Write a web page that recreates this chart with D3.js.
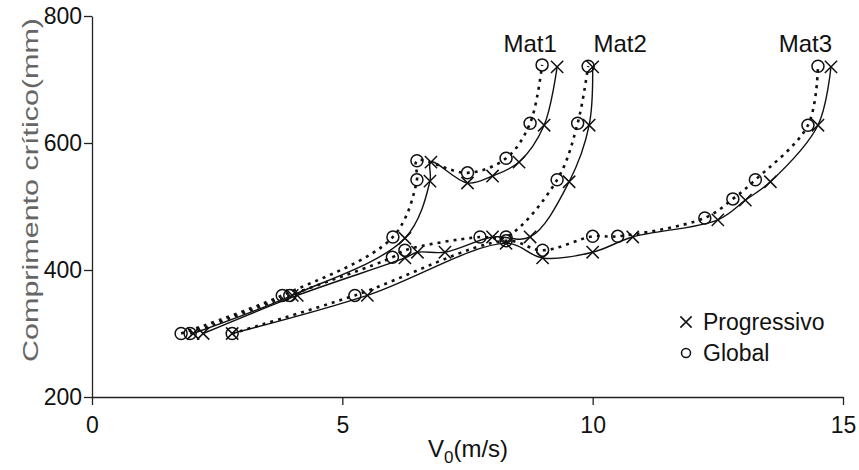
<!DOCTYPE html>
<html lang="pt">
<head>
  <meta charset="UTF-8">
  <script src="https://cdn.jsdelivr.net/npm/d3@7"></script>
  <title>Comprimento crítico x V0</title>
  <style>
    body { margin: 0; background: #fff; }
    text { font-family: 'Liberation Sans', Arial, sans-serif; }
    .tick text { font-size: 23px; fill: #111; }
    .tick line, .domain { stroke: #222; stroke-width: 1.3; }
    .prog { fill: none; stroke: #111; stroke-width: 1.4; }
    .glob { fill: none; stroke: #111; stroke-width: 2.6; stroke-dasharray: 3 5; }
    .mark { fill: none; stroke: #111; stroke-width: 1.5; }
  </style>
</head>
<body>
  <script>
    // data: velocity (m/s) and critical length (mm)
    const mat1ProgV = [2.02, 4.0, 6.25, 6.75, 6.77, 7.5, 8.0, 8.53, 9.03, 9.29];
    const mat1ProgL = [300, 360, 450, 540, 570, 537, 548, 570, 628, 720];
    const mat1GlobV = [1.78, 3.8, 6.01, 6.49, 6.49, 7.5, 8.27, 8.75, 8.99];
    const mat1GlobL = [300, 360, 452, 542, 572, 553, 576, 631, 723];

    const mat2ProgV = [2.22, 4.1, 6.25, 6.5, 7.05, 8.0, 8.75, 9.53, 9.93, 10.0];
    const mat2ProgL = [300, 360, 419, 428, 428, 452, 452, 539, 628, 720];
    const mat2GlobV = [1.96, 3.95, 6.0, 6.25, 7.75, 8.27, 9.29, 9.7, 9.91];
    const mat2GlobL = [300, 360, 420, 431, 452, 452, 542, 631, 721];

    const mat3ProgV = [2.8, 5.5, 8.27, 9.0, 10.0, 10.8, 12.5, 13.05, 13.55, 14.5, 14.76];
    const mat3ProgL = [300, 360, 442, 419, 428, 452, 479, 510, 539, 628, 720];
    const mat3GlobV = [2.8, 5.25, 8.27, 9.0, 10.0, 10.5, 12.24, 12.8, 13.25, 14.3, 14.5];
    const mat3GlobL = [300, 360, 446, 431, 453, 453, 482, 512, 542, 628, 721];

    const matLabels = ['Mat1', 'Mat2', 'Mat3'];
    const matLabelV = [8.75, 10.55, 14.25];
    const xTicks = [0, 5, 10, 15];
    const yTicks = [200, 400, 600, 800];

    const width = 859, height = 470;
    const x = d3.scaleLinear().domain([0, 15]).range([92, 843]);
    const y = d3.scaleLinear().domain([200, 800]).range([397, 16]);

    const svg = d3.select('body').append('svg').attr('width', width).attr('height', height);

    svg.append('g').attr('transform', `translate(0,${y(200)})`)
      .call(d3.axisBottom(x).tickValues(xTicks).tickSize(8).tickSizeOuter(0).tickPadding(5))
      .selectAll('.tick text').attr('dy', '1em');
    svg.append('g').attr('transform', `translate(${x(0)},0)`)
      .call(d3.axisLeft(y).tickValues(yTicks).tickSize(8).tickSizeOuter(0).tickPadding(2));

    const series = [
      [mat1ProgV, mat1ProgL, mat1GlobV, mat1GlobL],
      [mat2ProgV, mat2ProgL, mat2GlobV, mat2GlobL],
      [mat3ProgV, mat3ProgL, mat3GlobV, mat3GlobL]
    ];

    const line = d3.line().x(d => x(d[0])).y(d => y(d[1])).curve(d3.curveCatmullRom.alpha(0.5));
    const xSym = d3.symbol().type(d3.symbolX).size(100);

    series.forEach(([pv, pl, gv, gl]) => {
      const prog = pv.map((v, i) => [v, pl[i]]);
      const glob = gv.map((v, i) => [v, gl[i]]);
      svg.append('path').attr('class', 'glob').attr('d', line(glob));
      svg.append('path').attr('class', 'prog').attr('d', line(prog));
      svg.append('g').selectAll('circle').data(glob).enter().append('circle')
        .attr('class', 'mark').attr('r', 6)
        .attr('cx', d => x(d[0])).attr('cy', d => y(d[1]));
      svg.append('g').selectAll('path').data(prog).enter().append('path')
        .attr('class', 'mark').attr('d', xSym)
        .attr('transform', d => `translate(${x(d[0])},${y(d[1])})`);
    });

    svg.selectAll('.matlabel').data(matLabels).enter().append('text')
      .attr('class', 'matlabel')
      .attr('x', (d, i) => x(matLabelV[i])).attr('y', y(743))
      .attr('text-anchor', 'middle').style('font-size', '24px').style('fill', '#111')
      .text(d => d);

    // axis titles
    const xt = svg.append('text').attr('x', 468).attr('y', 457)
      .attr('text-anchor', 'middle').style('font-size', '24px').style('fill', '#111');
    xt.append('tspan').text('V');
    xt.append('tspan').attr('dy', 6).style('font-size', '17px').text('0');
    xt.append('tspan').attr('dy', -6).text('(m/s)');

    svg.append('text')
      .attr('transform', `translate(38,${190}) rotate(-90)`)
      .attr('text-anchor', 'middle').style('font-size', '22px').style('fill', '#666')
      .attr('textLength', 344).attr('lengthAdjust', 'spacingAndGlyphs')
      .text('Comprimento crítico(mm)');

    // legend
    const legend = svg.append('g');
    legend.append('path').attr('class', 'mark').attr('d', d3.symbol().type(d3.symbolX).size(85))
      .attr('transform', 'translate(686,322)');
    legend.append('circle').attr('class', 'mark').attr('r', 4.5).attr('cx', 686).attr('cy', 353);
    legend.append('text').attr('x', 703).attr('y', 330).style('font-size', '23px').style('fill', '#111')
      .text('Progressivo');
    legend.append('text').attr('x', 703).attr('y', 361).style('font-size', '23px').style('fill', '#111')
      .text('Global');
  </script>
</body>
</html>
